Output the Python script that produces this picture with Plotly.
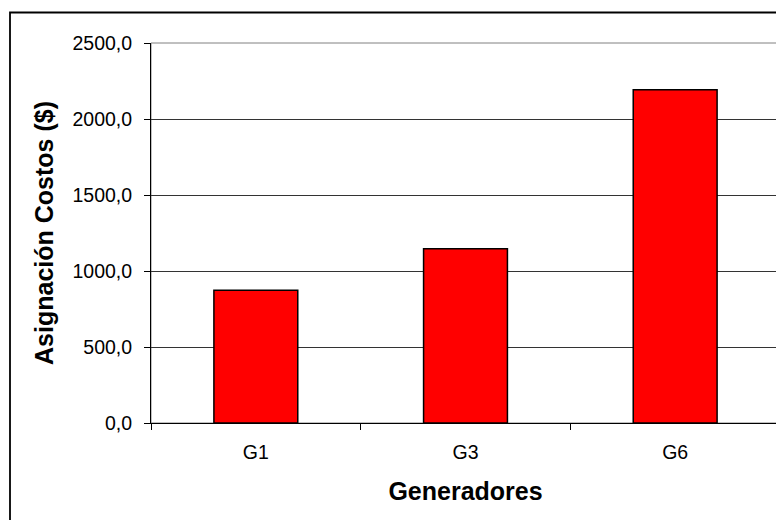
import plotly.graph_objects as go

categories = ["G1", "G3", "G6"]
costos = [873.0, 1147.0, 2193.0]
y_ticks = [0, 500, 1000, 1500, 2000, 2500]

# The page body adds an 8px offset; compensate so the plot lands where the reference has it.
OFF = 8
W, H = 784 - OFF, 520 - OFF
L, R, T, B = 151 - OFF, 4, 43 - OFF, 97
pw, ph = W - L - R, H - T - B

fig = go.Figure(
    go.Bar(
        x=categories,
        y=costos,
        width=0.4,
        marker=dict(color="#FF0000", line=dict(color="#000000", width=1.5)),
    )
)

font_family = "Liberation Sans, Arial, sans-serif"

fig.update_layout(
    width=W,
    height=H,
    margin=dict(l=L, r=R, t=T, b=B, pad=0),
    paper_bgcolor="white",
    plot_bgcolor="white",
    separators=",.",
    showlegend=False,
    font=dict(family=font_family, color="black", size=19.5),
    shapes=[
        # outer frame
        dict(type="rect", xref="paper", yref="paper",
             x0=(10 - 151) / pw, x1=1.2, y0=-0.4, y1=1 + (43 - 12.5) / ph,
             line=dict(color="black", width=1.8), layer="above"),
        # plot area border
        dict(type="rect", xref="paper", yref="paper",
             x0=0, x1=1, y0=0, y1=1,
             line=dict(color="#808080", width=1), layer="below"),
    ],
)

fig.update_xaxes(
    type="category",
    showline=True, linecolor="black", linewidth=1,
    ticks="outside", tickson="boundaries", ticklen=6, tickcolor="black", tickwidth=1,
    ticklabelstandoff=12,
    showgrid=False,
    tickfont=dict(size=19.5, family=font_family, color="black"),
    title=dict(text="<b>Generadores</b>", font=dict(size=25, family=font_family, color="black"), standoff=20),
)

fig.update_yaxes(
    range=[0, 2500],
    tickvals=y_ticks,
    tickformat=".1f",
    showline=True, linecolor="black", linewidth=1,
    ticks="outside", ticklen=6, tickcolor="black", tickwidth=1,
    ticklabelstandoff=8,
    showgrid=True, gridcolor="#333333", gridwidth=1,
    zeroline=False,
    tickfont=dict(size=19.5, family=font_family, color="black"),
    title=dict(text="<b>Asignación Costos ($)</b>", font=dict(size=25, family=font_family, color="black"), standoff=11),
)

fig.write_html("out.html")
